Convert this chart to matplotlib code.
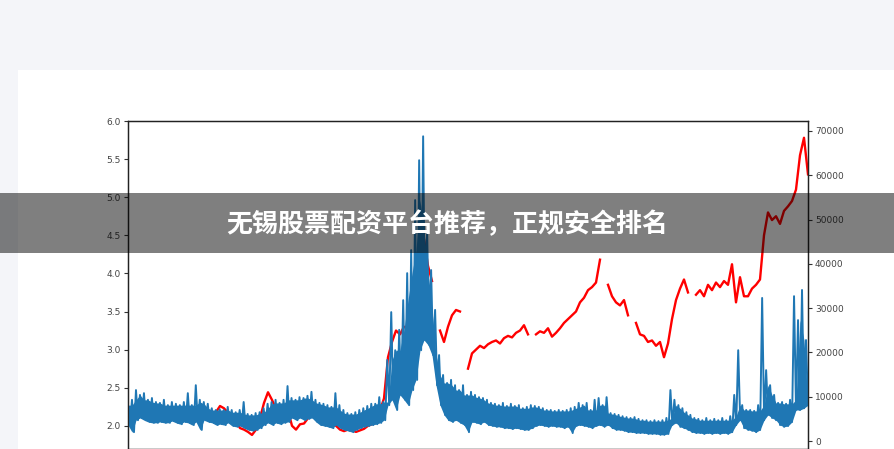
import numpy as np
import matplotlib
matplotlib.use("Agg")
import matplotlib.pyplot as plt
from matplotlib.patches import Rectangle

# price (left axis), one value per step; nan = gap in the line
nan = np.nan
price = [
    2.15, 2.12, 2.18, 2.20, 2.16, 2.14, 2.15, 2.12, 2.13, 2.10,
    2.12, 2.14, 2.11, 2.13, 2.10, 2.12, 2.09, 2.11, 2.13, 2.10,
    2.12, 2.15, 2.18, 2.26, 2.23, 2.17, 2.12, 2.06, 1.97, 1.95,
    1.92, 1.88, 1.95, 2.10, 2.30, 2.44, 2.34, 2.22, 2.18, 2.25,
    2.20, 2.00, 1.95, 2.02, 2.03, 2.10, 2.15, 2.13, 2.10, 2.06,
    2.04, 2.02, 2.00, 1.95, 1.93, 1.95, 1.94, 1.92, 1.94, 1.96,
    2.00, 2.02, 2.05, 2.20, 2.36, 2.90, 3.10, 3.25, 3.20, 3.30,
    3.28, 3.60, 3.95, 4.30, 4.45, 4.10, 3.90, nan, 3.25, 3.10,
    3.30, 3.45, 3.52, 3.50, nan, 2.75, 2.95, 3.00, 3.05, 3.02,
    3.07, 3.10, 3.12, 3.08, 3.15, 3.18, 3.16, 3.22, 3.25, 3.32,
    3.20, nan, 3.20, 3.24, 3.22, 3.28, 3.17, 3.22, 3.28, 3.35,
    3.40, 3.45, 3.50, 3.62, 3.68, 3.78, 3.82, 3.88, 4.18, nan,
    3.85, 3.70, 3.62, 3.58, 3.65, 3.45, nan, 3.35, 3.20, 3.18,
    3.10, 3.12, 3.05, 3.10, 2.90, 3.08, 3.40, 3.65, 3.80, 3.92,
    3.75, nan, 3.72, 3.78, 3.70, 3.85, 3.78, 3.88, 3.82, 3.90,
    3.85, 4.12, 3.62, 3.95, 3.70, 3.70, 3.80, 3.85, 3.92, 4.50,
    4.80, 4.70, 4.75, 4.65, 4.82, 4.88, 4.95, 5.10, 5.55, 5.78,
    5.30,
]

# volume (right axis): upper and lower swing of the noisy band, per step
vol_hi = [
    8100, 9300, 11500, 10400, 10800, 9300, 9700, 8800, 8600, 9300,
    8100, 8800, 8400, 8100, 8800, 10800, 8100, 12600, 9300, 8800,
    8400, 7400, 7000, 7200, 7000, 7700, 7000, 6500, 7000, 8800,
    6100, 5900, 6300, 6500, 7400, 8400, 8800, 9300, 8600, 9300,
    12400, 9700, 9300, 9900, 9700, 10200, 11100, 9300, 8600, 8400,
    8100, 7700, 10800, 8100, 7000, 6300, 6100, 6500, 7000, 7400,
    7900, 8400, 8400, 9900, 8800, 18300, 29100, 20500, 25100, 31800,
    37900, 43100, 54400, 63400, 68800, 47600, 38600, 29600, 19400, 14900,
    13100, 13800, 12600, 11500, 12600, 10400, 11100, 10400, 9900, 9700,
    9300, 8600, 8400, 8100, 8600, 7900, 8400, 7900, 8100, 7400,
    7700, 8100, 7900, 7700, 7400, 7000, 7000, 6800, 7000, 6800,
    7000, 7400, 7700, 8600, 8100, 8600, 7000, 9300, 9700, 8100,
    9900, 6300, 6100, 5900, 5600, 5400, 5200, 5400, 5000, 4700,
    4700, 4500, 4700, 4500, 4700, 5200, 11500, 9300, 8100, 7400,
    6500, 5900, 5200, 5000, 4700, 5200, 4700, 5000, 4700, 5200,
    4700, 5600, 10400, 20500, 8100, 7000, 7000, 6800, 8100, 32300,
    16000, 12600, 10400, 8600, 8800, 8400, 9300, 32700, 27300, 34100,
    22800,
]
vol_lo = [
    3600, 2000, 4700, 5200, 4700, 4300, 4100, 4100, 4300, 4100,
    4100, 4500, 4100, 3800, 4300, 4100, 3600, 4300, 2500, 4700,
    4300, 4100, 3600, 3800, 3600, 4100, 3400, 3200, 3400, 2900,
    2500, 2300, 2500, 2900, 3600, 4100, 3600, 4100, 3800, 4100,
    4300, 5200, 4700, 5200, 4700, 5000, 5200, 4300, 3600, 3400,
    3200, 2900, 3600, 2900, 2500, 2300, 2000, 2500, 2900, 3200,
    3400, 3600, 3800, 4100, 4700, 8100, 9300, 7000, 10400, 9300,
    8100, 11500, 13800, 20500, 22800, 21700, 19400, 12600, 8100, 5900,
    4700, 4300, 4700, 4100, 3600, 2000, 4300, 4100, 3800, 4300,
    3600, 3400, 3200, 3200, 2900, 2900, 2700, 2900, 2700, 2500,
    2500, 2900, 3400, 3600, 3400, 3200, 3400, 3200, 3200, 2900,
    3200, 1800, 3400, 3600, 3400, 3200, 2900, 3400, 3600, 3200,
    3600, 2900, 2500, 2500, 2300, 2000, 2000, 1800, 1800, 1800,
    1600, 1600, 1600, 1400, 1400, 1600, 3600, 4100, 3200, 2900,
    2500, 2000, 1800, 1800, 1600, 1800, 1600, 1800, 1600, 1800,
    1600, 2000, 3600, 4700, 2900, 2500, 2300, 2000, 2500, 4700,
    5900, 5200, 4700, 3600, 3200, 3400, 4300, 7000, 7000, 7400,
    8100,
]

left_ticks = [2.0, 2.5, 3.0, 3.5, 4.0, 4.5, 5.0, 5.5, 6.0]
right_ticks = [0, 10000, 20000, 30000, 40000, 50000, 60000, 70000]
title = "无锡股票配资平台推荐，正规安全排名"

W, H = 894, 449
fig = plt.figure(figsize=(W / 100, H / 100), dpi=100)
fig.patch.set_facecolor("#f4f5f9")

# white card behind the chart
fig.add_artist(Rectangle((18 / W, 0), 1, (H - 70) / H, transform=fig.transFigure,
                         facecolor="white", edgecolor="none", zorder=0))

ax = fig.add_axes([128 / W, 0, 680 / W, (H - 121) / H])
ax.set_facecolor("none")

days = np.arange(len(price))
ax.plot(days, price, color="red", lw=1.7)

# volume: zig-zag between the two swings, band body filled
hi = np.array(vol_hi, dtype=float)
lo = np.array(vol_lo, dtype=float)
body = np.minimum(hi, np.minimum(np.roll(hi, 1), np.roll(hi, -1)))
vol = np.empty(2 * len(hi))
vol[0::2] = hi
vol[1::2] = lo
vdays = np.linspace(0, len(price) - 1, len(vol))

ax2 = ax.twinx()
ax2.fill_between(days, lo, body, color="#1f77b4", lw=0)
ax2.plot(vdays, vol, color="#1f77b4", lw=1.4)

ax.set_xlim(0, len(price) - 1)
ax.set_ylim(6.0 - 328 / 76.2, 6.0)
ax2.set_ylim(-1806, 72257)

ax.set_yticks(left_ticks)
ax.set_yticklabels([f"{t:.1f}" for t in left_ticks])
ax2.set_yticks(right_ticks)
ax2.set_yticklabels([str(t) for t in right_ticks])
ax.set_xticks([])

for a in (ax, ax2):
    a.tick_params(axis="y", labelsize=6.5, length=3, pad=2, colors="#333333",
                  labelcolor="#444444")
    for s in a.spines.values():
        s.set_linewidth(0.9)
        s.set_color("#222222")

# dark title banner across the picture
fig.add_artist(Rectangle((0, (H - 253) / H), 1, 60 / H, transform=fig.transFigure,
                         facecolor="black", alpha=0.5, edgecolor="none", zorder=10))
fig.text(0.5, (H - 225) / H, title, ha="center", va="center", color="white",
         fontsize=18.7, fontweight="bold", zorder=11,
         family=["Noto Sans CJK SC", "DejaVu Sans"])

fig.savefig("out.png", dpi=100, facecolor=fig.get_facecolor())
